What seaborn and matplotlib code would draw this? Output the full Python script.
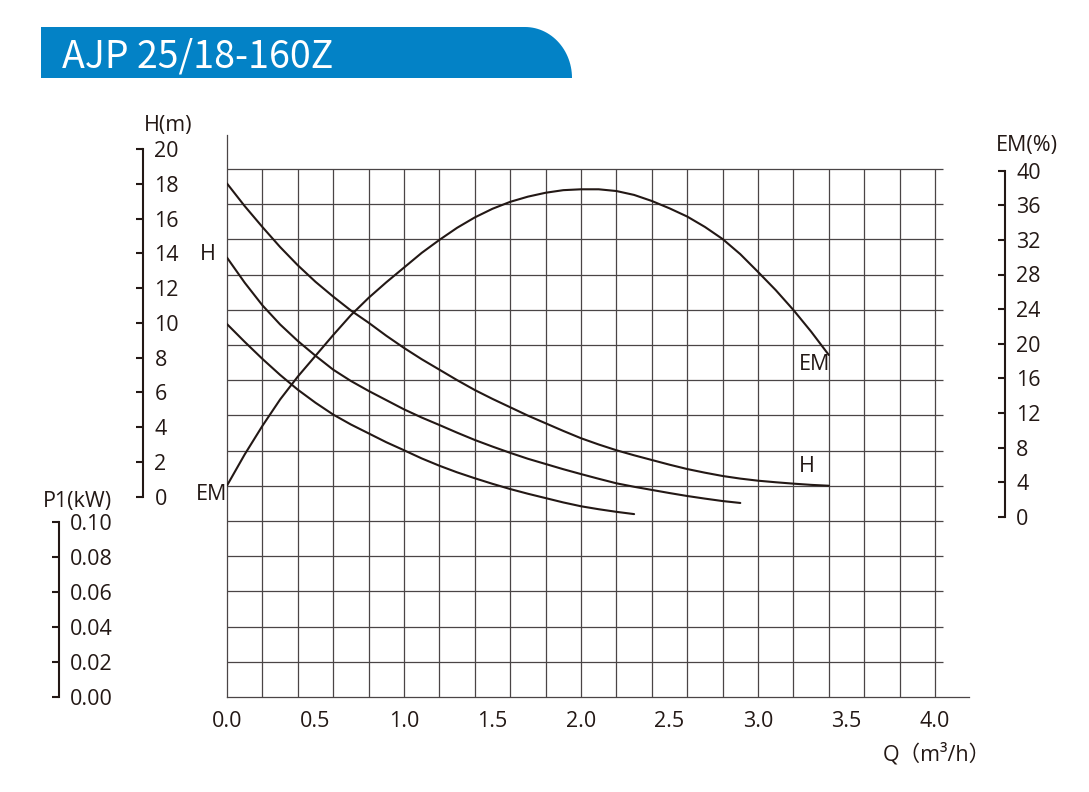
import numpy as np
import matplotlib
matplotlib.use('Agg')
import matplotlib.pyplot as plt
import seaborn as sns
from matplotlib.patches import Polygon

# Q (m3/h) - H (m), три кривые
q_h1 = [0.0, 0.1, 0.2, 0.3, 0.4, 0.5, 0.6, 0.7, 0.8, 0.9, 1.0, 1.1, 1.2, 1.3, 1.4, 1.5, 1.6, 1.7,
        1.8, 1.9, 2.0, 2.1, 2.2, 2.3, 2.4, 2.5, 2.6, 2.7, 2.8, 2.9, 3.0, 3.1, 3.2, 3.3, 3.4]
h1 = [18.0, 16.7, 15.5, 14.35, 13.3, 12.35, 11.5, 10.7, 10.0, 9.25, 8.55, 7.9, 7.3, 6.7, 6.13, 5.62,
      5.14, 4.66, 4.22, 3.78, 3.36, 3.0, 2.67, 2.38, 2.11, 1.84, 1.59, 1.38, 1.19, 1.04, 0.92, 0.83,
      0.75, 0.68, 0.63]

q_h2 = [0.0, 0.1, 0.2, 0.3, 0.4, 0.5, 0.6, 0.7, 0.8, 0.9, 1.0, 1.1, 1.2, 1.3, 1.4, 1.5, 1.6, 1.7,
        1.8, 1.9, 2.0, 2.1, 2.2, 2.3, 2.4, 2.5, 2.6, 2.7, 2.8, 2.9]
h2 = [13.74, 12.3, 11.0, 9.9, 8.95, 8.1, 7.3, 6.65, 6.08, 5.55, 5.02, 4.55, 4.12, 3.68, 3.26, 2.88,
      2.52, 2.18, 1.88, 1.58, 1.3, 1.03, 0.77, 0.57, 0.39, 0.21, 0.04, -0.11, -0.25, -0.36]

q_h3 = [0.0, 0.1, 0.2, 0.3, 0.4, 0.5, 0.6, 0.7, 0.8, 0.9, 1.0, 1.1, 1.2, 1.3, 1.4, 1.5, 1.6, 1.7,
        1.8, 1.9, 2.0, 2.1, 2.2, 2.3]
h3 = [9.92, 8.9, 7.92, 7.0, 6.15, 5.4, 4.72, 4.15, 3.64, 3.13, 2.67, 2.2, 1.78, 1.4, 1.06, 0.74,
      0.44, 0.17, -0.08, -0.33, -0.55, -0.72, -0.87, -1.0]

# Q - EM (%)
q_em = [0.0, 0.1, 0.2, 0.3, 0.4, 0.5, 0.6, 0.7, 0.8, 0.9, 1.0, 1.1, 1.2, 1.3, 1.4, 1.5, 1.6, 1.7,
        1.8, 1.9, 2.0, 2.1, 2.2, 2.3, 2.4, 2.5, 2.6, 2.7, 2.8, 2.9, 3.0, 3.1, 3.2, 3.3, 3.4]
em = [3.6, 7.2, 10.5, 13.55, 16.2, 18.6, 21.0, 23.3, 25.3, 27.1, 28.8, 30.5, 32.0, 33.4, 34.6, 35.6,
      36.4, 37.0, 37.45, 37.75, 37.85, 37.85, 37.65, 37.2, 36.5, 35.65, 34.7, 33.5, 32.1, 30.35, 28.3,
      26.2, 23.9, 21.4, 18.7]

q_ticks = [0.0, 0.5, 1.0, 1.5, 2.0, 2.5, 3.0, 3.5, 4.0]
h_ticks = [0, 2, 4, 6, 8, 10, 12, 14, 16, 18, 20]
em_ticks = [0, 4, 8, 12, 16, 20, 24, 28, 32, 36, 40]
p1_ticks = [0.00, 0.02, 0.04, 0.06, 0.08, 0.10]

title = 'AJP 25/18-160Z'
ink = '#231815'
grid_c = '#4a4546'
blue = '#0382c6'
fs = 15.5

sns.set_style('white')
plt.rcParams['font.family'] = ['Open Sans', 'Noto Sans CJK SC', 'DejaVu Sans']

W, H = 1089, 792
fig = plt.figure(figsize=(W / 100, H / 100), dpi=100)


def px_axes(x0, y0, x1, y1):
    # оси по пиксельным координатам (верхний левый угол - начало)
    return fig.add_axes([x0 / W, (H - y1) / H, (x1 - x0) / W, (y1 - y0) / H])


# подложка для заголовка и подписей
ov = px_axes(0, 0, W, H)
ov.set_xlim(0, W)
ov.set_ylim(H, 0)
ov.axis('off')

t = np.linspace(0, np.pi / 2, 30)
arc = np.column_stack([525 + 47 * np.sin(t), 78 - 51 * np.cos(t)])
banner = np.vstack([[[41, 78], [41, 27]], arc, [[572, 78]]])
ov.add_patch(Polygon(banner, closed=True, facecolor=blue, edgecolor='none'))
ov.text(62, 67, title, color='white', fontsize=27, ha='left', va='baseline',
        family=['Noto Sans CJK SC', 'DejaVu Sans'])

# основная сетка: x в м3/ч, y в строках сетки
ax = px_axes(227, 135, 969, 697)
ax.patch.set_visible(False)
ax.set_xlim(0, 742 / 177)
ax.set_ylim(0, 562 / 35.2)
ax.vlines(np.arange(0.2, 4.01, 0.2), 0, 15, color=grid_c, lw=0.9)
ax.hlines(np.arange(1, 16), 0, 716 / 177, color=grid_c, lw=0.9)
for s in ['top', 'right']:
    ax.spines[s].set_visible(False)
for s in ['left', 'bottom']:
    ax.spines[s].set_color(grid_c)
    ax.spines[s].set_linewidth(0.9)
ax.set_yticks([])
ax.set_xticks(q_ticks)
ax.set_xticklabels([f'{v:.1f}' for v in q_ticks])
ax.tick_params(axis='x', length=0, pad=10, labelsize=fs, labelcolor=ink)

# кривые H
ax_h = ax.twinx()
ax_h.set_ylim((496.7 - 697) / 17.4, (496.7 - 135) / 17.4)
for q, h in [(q_h1, h1), (q_h2, h2), (q_h3, h3)]:
    sns.lineplot(x=q, y=h, ax=ax_h, color=ink, linewidth=1.5)

# кривая EM
ax_em = ax.twinx()
ax_em.set_ylim((516.7 - 697) / 8.65, (516.7 - 135) / 8.65)
sns.lineplot(x=q_em, y=em, ax=ax_em, color=ink, linewidth=1.5)

for a in [ax_h, ax_em]:
    a.axis('off')
    a.set_xlim(0, 742 / 177)


def scale_axis(x0, y0, x1, y1, lim, ticks, labels):
    s = px_axes(x0, y0, x1, y1)
    s.patch.set_visible(False)
    s.set_ylim(*lim)
    for k in ['left', 'top', 'bottom']:
        s.spines[k].set_visible(False)
    s.spines['right'].set_linewidth(1.5)
    s.spines['right'].set_color(ink)
    s.set_xticks([])
    s.yaxis.tick_right()
    s.set_yticks(ticks)
    s.set_yticklabels(labels)
    s.tick_params(axis='y', direction='in', length=5, width=1.5, color=ink,
                  pad=8, labelsize=fs, labelcolor=ink)
    return s


scale_axis(100, 149, 143.3, 496.7, (0, 20), h_ticks, [str(v) for v in h_ticks])
scale_axis(960, 170.7, 1005, 516.7, (0, 40), em_ticks, [str(v) for v in em_ticks])
scale_axis(20, 521.7, 59, 696.7, (0, 0.1), p1_ticks, [f'{v:.2f}' for v in p1_ticks])

# подписи
lab = dict(fontsize=fs, color=ink, ha='center', va='center')
ov.text(168, 125, 'H(m)', **lab)
ov.text(1027, 145, 'EM(%)', **lab)
ov.text(77, 502, 'P1(kW)', **lab)
ov.text(937, 754, 'Q（m³/h）', **lab)
ov.text(208, 255, 'H', **lab)
ov.text(212, 494, 'EM', **lab)
ov.text(815, 365, 'EM', **lab)
ov.text(807, 467, 'H', **lab)

fig.savefig('out.png', dpi=100)
